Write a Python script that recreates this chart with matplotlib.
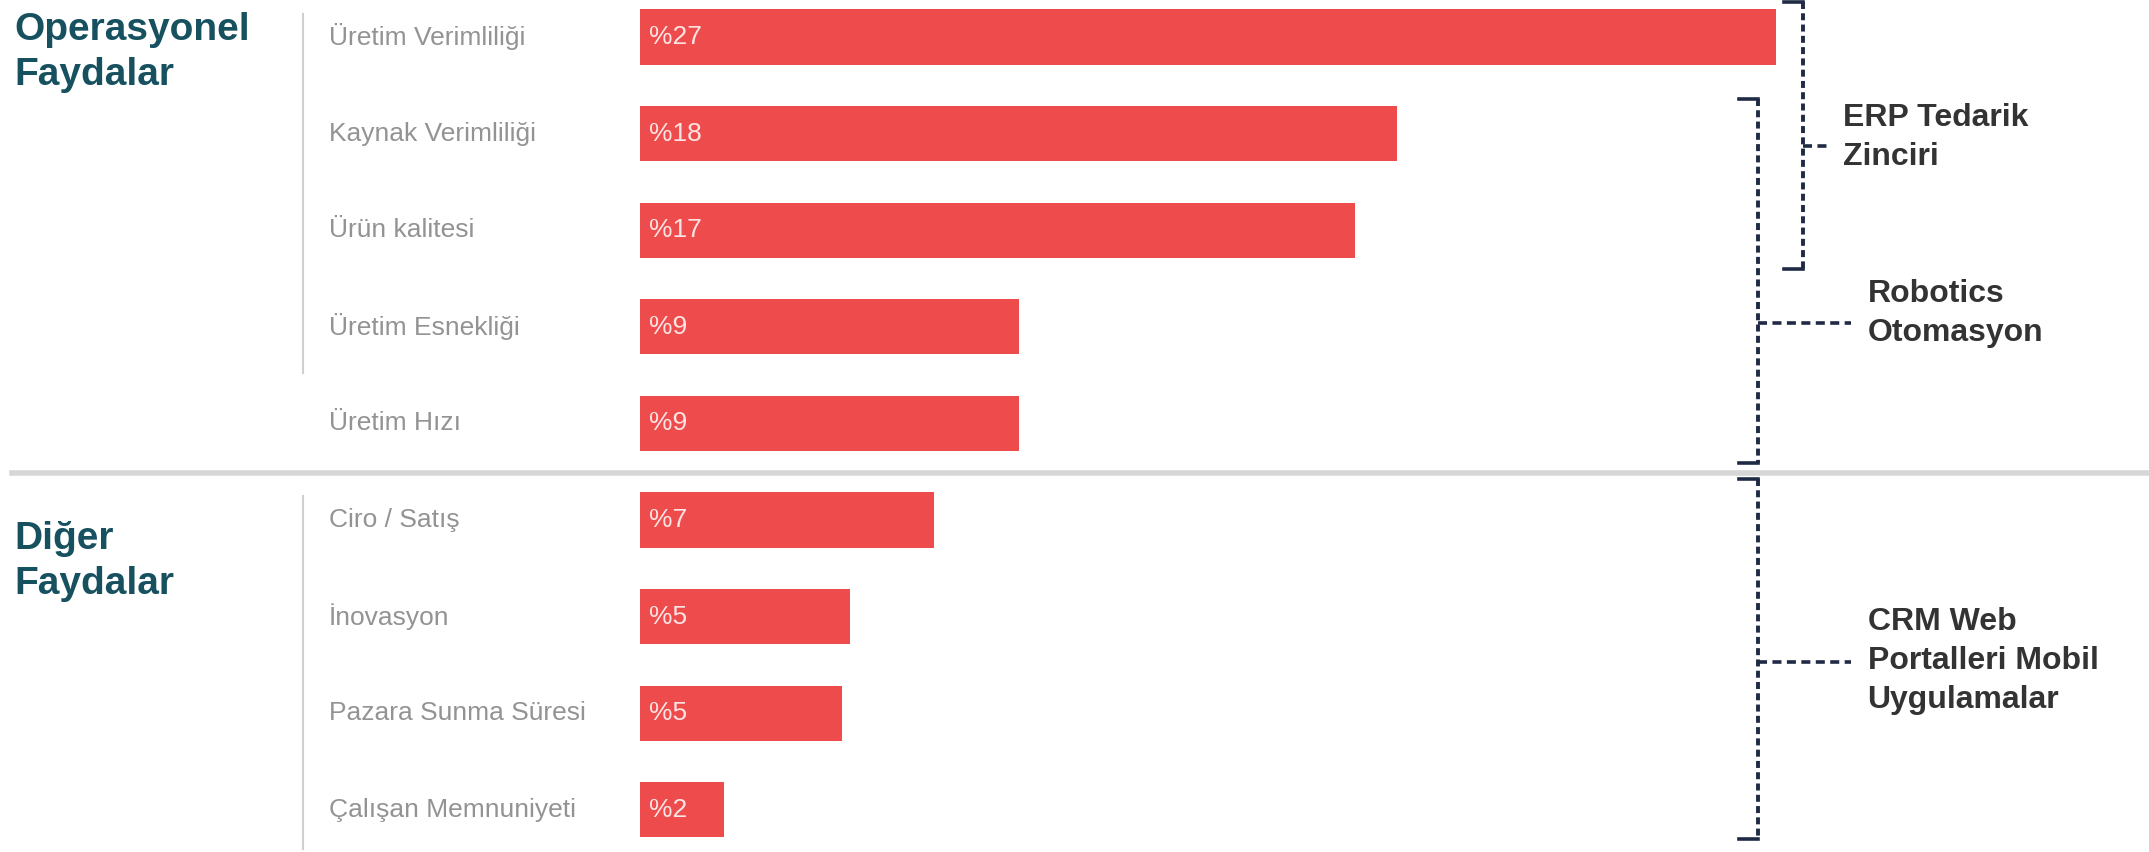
import matplotlib.pyplot as plt
from matplotlib.lines import Line2D
from matplotlib.transforms import blended_transform_factory

# data
categories = ['Üretim Verimliliği', 'Kaynak Verimliliği', 'Ürün kalitesi',
              'Üretim Esnekliği', 'Üretim Hızı', 'Ciro / Satış', 'İnovasyon',
              'Pazara Sunma Süresi', 'Çalışan Memnuniyeti']
values = [27, 18, 17, 9, 9, 7, 5, 4.8, 2]
value_labels = ['%27', '%18', '%17', '%9', '%9', '%7', '%5', '%5', '%2']

groups = ['Operasyonel\nFaydalar', 'Diğer\nFaydalar']
group_y = [0.16, 5.43]

# brackets: label, top, bottom, tick row, label row, x position (value units)
bracket_labels = ['ERP Tedarik\nZinciri', 'Robotics\nOtomasyon',
                  'CRM Web\nPortalleri Mobil\nUygulamalar']
bracket_top = [-0.36, 0.64, 4.58]
bracket_bottom = [2.40, 4.41, 8.30]
bracket_tick = [1.13, 2.96, 6.47]
bracket_text_y = [1.04, 2.86, 6.46]
bracket_x = [27.65, 26.58, 26.58]

bar_color = '#ee4c4c'
navy = '#1f2a44'
teal = '#17505f'
plt.rcParams['font.family'] = ['Liberation Sans', 'DejaVu Sans']

fig = plt.figure(figsize=(21.49, 8.52), dpi=100)
ax = fig.add_axes([640 / 2149, 0, 1 - 640 / 2149, 1])
ax.set_xlim(0, 35.87)
ax.set_ylim(8.437, -0.383)
ax.axis('off')

rows = list(range(len(categories)))
ax.barh(rows, values, height=0.57, color=bar_color)

figx = blended_transform_factory(fig.transFigure, ax.transData)

for i, (cat, lab) in enumerate(zip(categories, value_labels)):
    ax.text(0.22, i, lab, color='#fde4e4', fontsize=19, va='center', ha='left')
    fig.text(329 / 2149, i, cat, transform=figx, color='#939393', fontsize=19,
             va='center', ha='left')

# group headings and their thin gray rules
for name, gy in zip(groups, group_y):
    fig.text(14 / 2149, gy, name, transform=figx, color=teal, fontsize=28,
             fontweight='bold', va='center', ha='left', linespacing=1.3)
for a, b in [(-0.24, 3.48), (4.75, 8.41)]:
    fig.add_artist(Line2D([303 / 2149, 303 / 2149], [a, b], transform=figx,
                          color='#cfcfcf', lw=1.5))

# separator between the groups
fig.add_artist(Line2D([12 / 2149, 1], [4.51, 4.51], transform=figx,
                      color='#d6d6d6', lw=4))

# dashed brackets on the right
for i, text in enumerate(bracket_labels):
    bx, top, bot, mid = bracket_x[i], bracket_top[i], bracket_bottom[i], bracket_tick[i]
    ax.plot([bx, bx], [top, bot], color=navy, lw=2.8, ls=(0, (1.8, 1.1)),
            clip_on=False)
    ax.plot([bx - 0.45, bx], [top, top], color=navy, lw=2.6, clip_on=False)
    ax.plot([bx - 0.45, bx], [bot, bot], color=navy, lw=2.6, clip_on=False)
    length = 0.65 if i == 0 else 2.2
    ax.plot([bx, bx + length], [mid, mid], color=navy, lw=2.6,
            ls=(0, (2.5, 1.5)), clip_on=False)
    ax.text(bx + length + (0.3 if i == 0 else 0.4), bracket_text_y[i], text,
            color='#333333', fontsize=23, fontweight='bold', va='center',
            ha='left', linespacing=1.38)

fig.savefig('out.png', dpi=100, facecolor='white')
